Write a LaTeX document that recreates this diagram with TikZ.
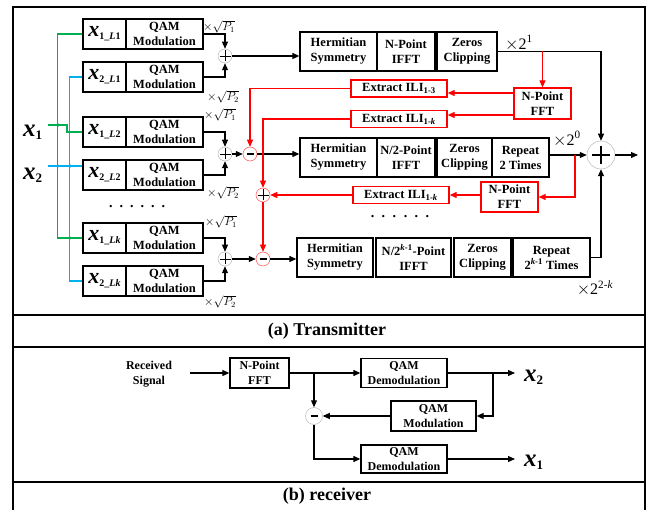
\documentclass[tikz,border=0pt]{standalone}
\usepackage{fontspec}
\setmainfont{Liberation Serif}
\usetikzlibrary{arrows.meta,calc}
\definecolor{ggreen}{RGB}{0,176,80}
\definecolor{gblue}{RGB}{0,176,240}
\newcommand\fsz[2]{\fontsize{#1}{#2}\selectfont}
\newcommand\xlab[1]{{\fsz{22}{22}\bfseries\itshape x}\raisebox{-3pt}{\fsz{10}{10}\bfseries #1}}
\newcommand\bigx[1]{{\fsz{25}{25}\bfseries\itshape x}\raisebox{-3pt}{\fsz{13}{13}\bfseries #1}}
\newcommand\sqp[1]{\fsz{11.5}{12}$\times\sqrt{P_{#1}}$}
\newcommand\twop[1]{\fsz{16}{16}$\times$2\textsuperscript{#1}}
\newcommand\dotrow[1]{\textbf{.}\hskip#1\textbf{.}\hskip#1\textbf{.}\hskip#1\textbf{.}\hskip#1\textbf{.}\hskip#1\textbf{.}}
\tikzset{
  blk/.style={draw, line width=1.3pt, fill=white, inner sep=0pt, align=center, font=\fsz{12.5}{15}\bfseries},
  rblk/.style={blk, draw=red},
  lbl/.style={blk, minimum width=43pt, minimum height=30pt},
  qam/.style={blk, minimum width=77pt, minimum height=30pt},
  conn/.style={line width=1.1pt, -{Triangle[length=7pt,width=6pt]}},
  rconn/.style={conn, draw=red},
  wire/.style={line width=1.3pt},
  plusc/.style={circle, draw=gray!55, line width=0.5pt, fill=white, minimum size=14pt, inner sep=0pt,
    path picture={\draw[black,line width=0.9pt]
      ([xshift=-5.5pt]path picture bounding box.center) -- ([xshift=5.5pt]path picture bounding box.center)
      ([yshift=-5.5pt]path picture bounding box.center) -- ([yshift=5.5pt]path picture bounding box.center);}},
  minusc/.style={circle, draw=gray!55, line width=0.5pt, fill=white, minimum size=14pt, inner sep=0pt,
    path picture={\draw[black,line width=2.6pt]
      ([xshift=-3.5pt]path picture bounding box.center) -- ([xshift=3.5pt]path picture bounding box.center);}},
  lab/.style={inner sep=0pt},
  captxt/.style={inner sep=0pt, font=\fsz{18}{20}\bfseries},
}
\begin{document}
\begin{tikzpicture}[x=1pt,y=-1pt]
\useasboundingbox (0,0) rectangle (653,510);
% frames
\draw[line width=1.5pt] (13,510) -- (13,7) -- (645,7) -- (645,510);
\draw[line width=1.5pt] (13,315) -- (645,315) (13,347) -- (645,347) (13,482) -- (645,482);
\node[captxt] (capa) at (327,331) {(a) Transmitter};
\node[captxt] (capb) at (327,496) {(b) receiver};

% ---------- transmitter: input branches ----------
\node[lbl] (xl1) at (104.5,34)  {\xlab{1\_\textit{L}1}};
\node[qam] (q1)  at (164.5,34)  {QAM\\Modulation};
\node[lbl] (xl2) at (104.5,77)  {\xlab{2\_\textit{L}1}};
\node[qam] (q2)  at (164.5,77)  {QAM\\Modulation};
\node[lbl] (xl3) at (104.5,132) {\xlab{1\_\textit{L}2}};
\node[qam] (q3)  at (164.5,132) {QAM\\Modulation};
\node[lbl] (xl4) at (104.5,175) {\xlab{2\_\textit{L}2}};
\node[qam] (q4)  at (164.5,175) {QAM\\Modulation};
\node[lbl] (xl5) at (104.5,238) {\xlab{1\_\textit{Lk}}};
\node[qam] (q5)  at (164.5,238) {QAM\\Modulation};
\node[lbl] (xl6) at (104.5,281) {\xlab{2\_\textit{Lk}}};
\node[qam] (q6)  at (164.5,281) {QAM\\Modulation};
\node[lab] (dots1) at (137,207) {\fsz{14}{14}\dotrow{7pt}};

\node[lab,anchor=west] (in1) at (23,132) {\bigx{1}};
\node[lab,anchor=west] (in2) at (23,175) {\bigx{2}};
\coordinate (g1) at (48,125);
\coordinate (g2) at (48,166);

\draw[wire,ggreen] (xl1.west) -- ++(-25,0) |- (xl5.west);
\draw[wire,gblue] (xl2.west) -- ++(-13,0) |- (xl6.west);
\draw[wire,ggreen] (g1) -- ++(19,0) |- (xl3.west);
\draw[wire,gblue] (g2) -- (xl4.west |- g2);
\fill[ggreen] (58,125) circle (1.9pt);
\fill[gblue] (70,166) circle (1.9pt);
\fill[gblue] (58,166) circle (1.6pt);
\fill[ggreen] (70,238) circle (1.6pt);

% weights
\node[lab] (s1) at (219,27)  {\sqp{1}};
\node[lab] (s2) at (223,97)  {\sqp{2}};
\node[lab] (s3) at (220,115) {\sqp{1}};
\node[lab] (s4) at (223,193) {\sqp{2}};
\node[lab] (s5) at (221,222) {\sqp{1}};
\node[lab] (s6) at (220,302) {\sqp{2}};

% adders
\node[plusc] (p1) at (225,56) {};
\node[plusc] (p2) at (225,154) {};
\node[plusc] (p3) at (225,259) {};
\node[minusc,draw=red!70] (m1) at (250,154) {};
\node[plusc,draw=red!70] (rp) at (263,195) {};
\node[minusc,draw=red!70] (m2) at (263,259) {};

\draw[conn] (q1.east) -| (p1);
\draw[conn] (q2.east) -| (p1);
\draw[conn] (q3.east) -| (p2);
\draw[conn] (q4.east) -| (p2);
\draw[conn] (q5.east) -| (p3);
\draw[conn] (q6.east) -| (p3);

% ---------- transmitter: IFFT chains ----------
\node[blk,minimum width=77pt,minimum height=39pt] (h1) at (338.5,51.5) {Hermitian\\Symmetry};
\node[blk,minimum width=58pt,minimum height=39pt] (i1) at (406,51.5) {N-Point\\IFFT};
\node[blk,minimum width=60pt,minimum height=39pt] (z1) at (467,51.5) {Zeros\\Clipping};

\node[blk,minimum width=77pt,minimum height=39pt] (h2) at (338.5,157.5) {Hermitian\\Symmetry};
\node[blk,minimum width=58pt,minimum height=39pt] (i2) at (406,157.5) {N/2-Point\\IFFT};
\node[blk,minimum width=55pt,minimum height=39pt] (z2) at (464.5,157.5) {Zeros\\Clipping};
\node[blk,minimum width=57pt,minimum height=39pt] (r2) at (520.5,157.5) {Repeat\\2 Times};

\node[blk,minimum width=76pt,minimum height=39pt] (h3) at (335,257.5) {Hermitian\\Symmetry};
\node[blk,minimum width=75pt,minimum height=39pt] (i3) at (413.5,257.5) {N/2\textsuperscript{\textit{k}-1}-Point\\IFFT};
\node[blk,minimum width=57pt,minimum height=39pt] (z3) at (482.5,257.5) {Zeros\\Clipping};
\node[blk,minimum width=77pt,minimum height=39pt] (r3) at (551.5,257.5) {Repeat\\2\textsuperscript{\textit{k}-1} Times};

\node[lab] (t1) at (519,43) {\twop{1}};
\node[lab] (t2) at (567,139) {\twop{0}};
\node[lab] (t3) at (595,288) {\twop{2-\textit{k}}};
\node[lab] (dots2) at (400,217) {\fsz{14}{14}\dotrow{7.5pt}};

\node[circle, draw=gray!55, line width=0.5pt, fill=white, minimum size=28pt, inner sep=0pt,
  path picture={\draw[black,line width=1.4pt]
      ([xshift=-9pt]path picture bounding box.center) -- ([xshift=9pt]path picture bounding box.center)
      ([yshift=-9pt]path picture bounding box.center) -- ([yshift=9pt]path picture bounding box.center);}]
  (bp) at (601,155) {};
\coordinate (out) at (638,155);
\coordinate (rb) at (575,155);

\draw[conn] (p1) -- (p1 -| h1.west);
\draw[conn] (p2) -- (m1);
\draw[conn] (m1) -- (m1 -| h2.west);
\draw[conn] (p3) -- (m2);
\draw[conn] (m2) -- (m2 -| h3.west);
\draw[conn] (z1.east) -| (bp);
\draw[conn] (r2.east |- bp) -- (bp);
\draw[conn] (r3.east) -| (bp);
\draw[conn] (bp) -- (out);

% ---------- red feedback ----------
\node[rblk,minimum width=57pt,minimum height=31pt] (fft1) at (542.5,103.5) {N-Point\\FFT};
\node[rblk,minimum width=96pt,minimum height=17pt] (ex1) at (399,88.5) {Extract ILI\textsubscript{1-3}};
\node[rblk,minimum width=96pt,minimum height=17pt] (ex2) at (399,119) {Extract ILI\textsubscript{1-\textit{k}}};
\node[rblk,minimum width=57pt,minimum height=30pt] (fft2) at (509.5,197) {N-Point\\FFT};
\node[rblk,minimum width=96pt,minimum height=17pt] (ex3) at (401,195) {Extract ILI\textsubscript{1-\textit{k}}};
\coordinate (ya) at (0,93);
\coordinate (yb) at (0,115);

\draw[rconn] (fft1.north |- z1.east) -- (fft1.north);
\draw[rconn] (fft1.west |- ya) -- (ex1.east |- ya);
\draw[rconn] (fft1.west |- yb) -- (ex2.east |- yb);
\draw[rconn] (ex1.west) -| (m1);
\draw[rconn] (ex2.west) -| (rp);
\draw[rconn] (rb) |- (fft2.east);
\draw[rconn] (fft2.west |- ex3) -- (ex3.east);
\draw[rconn] (ex3.west) -- (rp);
\draw[rconn] (rp) -- (m2);

% ---------- receiver ----------
\node[lab, align=center, font=\fsz{12}{15}\bfseries] (recv) at (149,374) {Received\\Signal};
\coordinate (rs) at (190,373);
\node[blk,font=\fsz{12}{15}\bfseries,minimum width=59pt,minimum height=30pt] (fftR) at (259.5,373) {N-Point\\FFT};
\node[blk,font=\fsz{12}{15}\bfseries,minimum width=86pt,minimum height=29pt] (dem1) at (404,373) {QAM\\Demodulation};
\node[blk,font=\fsz{12}{15}\bfseries,minimum width=85pt,minimum height=30pt] (modR) at (433.5,416) {QAM\\Modulation};
\node[blk,font=\fsz{12}{15}\bfseries,minimum width=86pt,minimum height=28pt] (dem2) at (404,459) {QAM\\Demodulation};
\node[minusc, minimum size=17pt] (mR) at (314,416) {};
\coordinate (o2) at (515,373);
\coordinate (o1) at (515,459);
\coordinate (br) at (493,373);
\node[lab,anchor=west] (x2R) at (524,377) {\bigx{2}};
\node[lab,anchor=west] (x1R) at (524,462) {\bigx{1}};

\draw[conn] (rs) -- (fftR);
\draw[conn] (fftR) -- (dem1);
\draw[conn] (mR |- fftR.east) -- (mR);
\draw[conn] (dem1) -- (o2);
\draw[conn] (br) |- (modR.east);
\draw[conn] (modR) -- (mR);
\draw[conn] (mR) |- (dem2.west);
\draw[conn] (dem2) -- (o1);
\end{tikzpicture}
\end{document}
